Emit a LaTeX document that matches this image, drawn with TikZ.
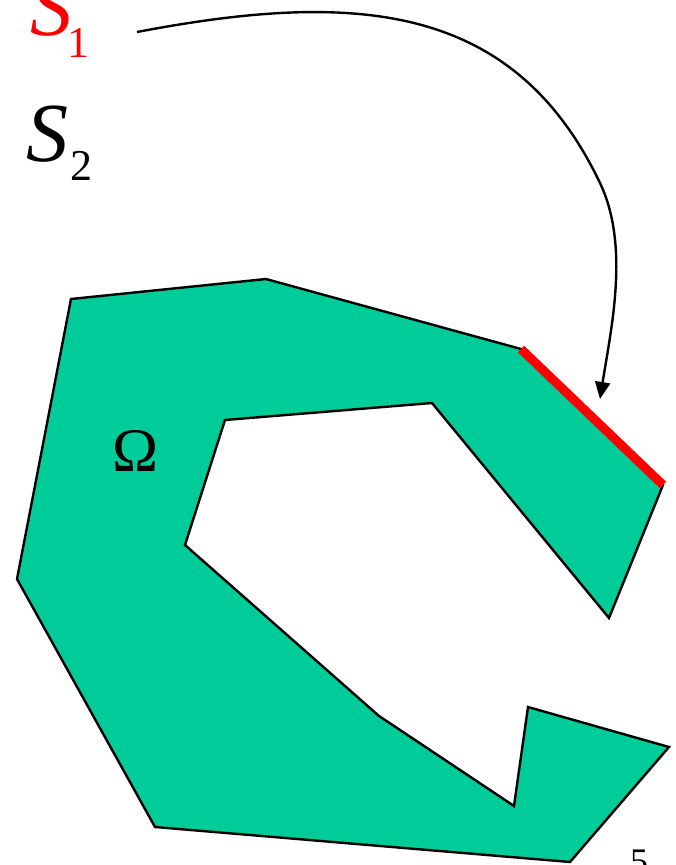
\documentclass[tikz,border=0pt]{standalone}
\usepackage{fontspec}
\setmainfont{Liberation Serif}
\usetikzlibrary{arrows.meta}
\definecolor{domgreen}{HTML}{00CC99}
\definecolor{bred}{HTML}{FF0000}
\tikzset{
  omegaregion/.style={fill=domgreen, draw=black, line width=2.4pt, line join=miter},
  bndpart/.style={draw=bred, line width=9pt},
  linkarrow/.style={draw=black, line width=2.4pt, -{Triangle[length=17pt,width=15pt]}},
  lbl/.style={inner sep=0pt, anchor=base west},
}
\begin{document}
\begin{tikzpicture}[x=1pt,y=-1pt]
\useasboundingbox (0,0) rectangle (676,865);
% vertices of the region
\coordinate (p1) at (71,299);
\coordinate (p2) at (266,279);
\coordinate (p3) at (521,349);
\coordinate (p4) at (663,485);
\coordinate (p5) at (609,618);
\coordinate (p6) at (432,403);
\coordinate (p7) at (225,420);
\coordinate (p8) at (185,545);
\coordinate (p9) at (379,716);
\coordinate (p10) at (514,806);
\coordinate (p11) at (528,707);
\coordinate (p12) at (669,747);
\coordinate (p13) at (570,862);
\coordinate (p14) at (155,827);
\coordinate (p15) at (17,579);
\path[omegaregion] (p1) -- (p2) -- (p3) -- (p4) -- (p5) -- (p6) -- (p7) -- (p8) -- (p9) -- (p10) -- (p11) -- (p12) -- (p13) -- (p14) -- (p15) -- cycle;
\draw[bndpart] (p3) -- (p4);
% labels
\node[lbl] (s1) at (30,35) {\color{bred}\fontsize{84}{84}\selectfont\itshape S\upshape\kern-5pt\raisebox{-22pt}{\fontsize{44}{44}\selectfont 1}};
\node[lbl] (s2) at (26,161) {\fontsize{84}{84}\selectfont\itshape S\upshape\kern2pt\raisebox{-19pt}{\fontsize{44}{44}\selectfont 2}};
\node[lbl] (om) at (112,471) {\fontsize{62}{62}\selectfont Ω};
\node[lbl] (pg) at (630,873) {\fontsize{36}{36}\selectfont 5};
% arrow from S1 to the boundary part
\coordinate (a0) at (137,32);
\coordinate (am) at (600,183);
\coordinate (a1) at (600,399);
\draw[linkarrow] (a0) .. controls (357,-10) and (514,3) .. (am)
                      .. controls (630,246) and (611,329) .. (a1);
\end{tikzpicture}
\end{document}
